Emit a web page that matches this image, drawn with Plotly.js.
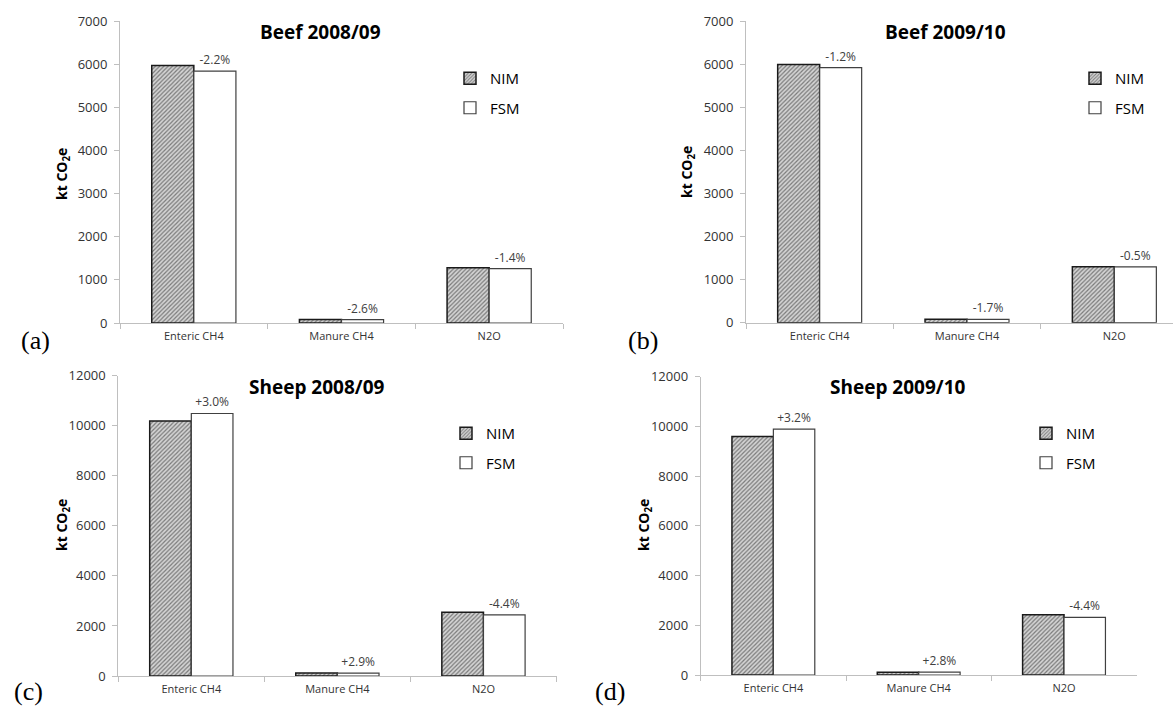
<!DOCTYPE html>
<html>
<head>
<meta charset="utf-8">
<script src="https://cdn.plot.ly/plotly-3.0.1.min.js"></script>
<style>html,body{margin:0;padding:0;background:#fff;}#chart{width:1173px;height:710px;}</style>
</head>
<body>
<div id="chart"></div>
<script>
// ---- data ----
const categories = ['Enteric CH4', 'Manure CH4', 'N2O'];
const seriesNames = ['NIM', 'FSM'];

const beef0809_nim = [5970, 80, 1280];
const beef0809_fsm = [5840, 78, 1262];
const beef0809_pct = ['-2.2%', '-2.6%', '-1.4%'];

const beef0910_nim = [5990, 80, 1300];
const beef0910_fsm = [5918, 79, 1293];
const beef0910_pct = ['-1.2%', '-1.7%', '-0.5%'];

const sheep0809_nim = [10190, 115, 2550];
const sheep0809_fsm = [10490, 118, 2440];
const sheep0809_pct = ['+3.0%', '+2.9%', '-4.4%'];

const sheep0910_nim = [9590, 110, 2420];
const sheep0910_fsm = [9895, 113, 2315];
const sheep0910_pct = ['+3.2%', '+2.8%', '-4.4%'];

const panelTitles = ['Beef 2008/09', 'Beef 2009/10', 'Sheep 2008/09', 'Sheep 2009/10'];
const panelLetters = ['(a)', '(b)', '(c)', '(d)'];
const yTitle = 'kt CO<sub>2</sub>e';

// ---- styling ----
const FONT = 'Open Sans, Noto Sans, sans-serif';
const panels = [
  {nim: beef0809_nim, fsm: beef0809_fsm, pct: beef0809_pct, xa: 'x',  ya: 'y',  lg: 'legend'},
  {nim: beef0910_nim, fsm: beef0910_fsm, pct: beef0910_pct, xa: 'x2', ya: 'y2', lg: 'legend2'},
  {nim: sheep0809_nim, fsm: sheep0809_fsm, pct: sheep0809_pct, xa: 'x3', ya: 'y3', lg: 'legend3'},
  {nim: sheep0910_nim, fsm: sheep0910_fsm, pct: sheep0910_pct, xa: 'x4', ya: 'y4', lg: 'legend4'}
];

const traces = [];
panels.forEach((p, i) => {
  traces.push({
    type: 'bar', name: seriesNames[0], x: categories, y: p.nim,
    xaxis: p.xa, yaxis: p.ya, legend: p.lg, legendgroup: 'g' + i + 'a',
    marker: {
      color: '#bdbdbd',
      line: {color: '#1a1a1a', width: 1.5},
      pattern: {shape: '/', bgcolor: '#d4d4d4', fgcolor: '#7a7a7a', size: 3, solidity: 0.4}
    },
    hoverinfo: 'skip'
  });
  traces.push({
    type: 'bar', name: seriesNames[1], x: categories, y: p.fsm,
    xaxis: p.xa, yaxis: p.ya, legend: p.lg, legendgroup: 'g' + i + 'b',
    text: p.pct, textposition: 'outside', cliponaxis: false,
    textfont: {family: FONT, size: 12, color: '#404040'},
    marker: {color: '#ffffff', line: {color: '#404040', width: 1.2}},
    hoverinfo: 'skip'
  });
});

function xAxis(domain, range) {
  const a = {
    domain: domain, type: 'category', tickson: 'boundaries',
    showline: true, linecolor: '#bfbfbf', linewidth: 1,
    ticks: 'outside', ticklen: 5, tickcolor: '#bfbfbf',
    tickfont: {family: FONT, size: 11, color: '#333333'},
    ticklabelstandoff: 3,
    showgrid: false, zeroline: false, fixedrange: true
  };
  if (range) a.range = range;
  return a;
}
function yAxis(domain, max, dtick, anchor) {
  return {
    domain: domain, range: [0, max], dtick: dtick, anchor: anchor,
    tickformat: 'd',
    showline: true, linecolor: '#bfbfbf', linewidth: 1,
    ticks: 'outside', ticklen: 5, tickcolor: '#bfbfbf',
    tickfont: {family: FONT, size: 13, color: '#333333'},
    ticklabelstandoff: 4,
    showgrid: false, zeroline: false, fixedrange: true
  };
}
function legendAt(x, y) {
  return {
    x: x, y: y, xanchor: 'left', yanchor: 'top',
    bgcolor: 'rgba(0,0,0,0)', borderwidth: 0,
    font: {family: FONT, size: 15, color: '#000000'},
    traceorder: 'grouped', tracegroupgap: 7, itemclick: false
  };
}

const W = 1173, H = 710;
const px = v => v / W;
const py = v => 1 - v / H;

const layout = {
  width: W, height: H,
  margin: {l: 0, r: 0, t: 0, b: 0},
  paper_bgcolor: '#ffffff', plot_bgcolor: '#ffffff',
  barmode: 'group', bargap: 0.43, bargroupgap: 0,
  font: {family: FONT},
  xaxis:  Object.assign(xAxis([px(120), px(563)]), {anchor: 'y'}),
  yaxis:  yAxis([py(323), py(21)], 7000, 1000, 'x'),
  xaxis2: Object.assign(xAxis([px(746), 1], [-0.5, 2.398]), {anchor: 'y2'}),
  yaxis2: yAxis([py(322.7), py(21)], 7000, 1000, 'x2'),
  xaxis3: Object.assign(xAxis([px(118.3), px(556.5)]), {anchor: 'y3'}),
  yaxis3: yAxis([py(676), py(375.7)], 12000, 2000, 'x3'),
  xaxis4: Object.assign(xAxis([px(700.7), px(1136.7)]), {anchor: 'y4'}),
  yaxis4: yAxis([py(675), py(376.7)], 12000, 2000, 'x4'),
  legend:  legendAt(px(450), py(62)),
  legend2: legendAt(px(1075), py(62)),
  legend3: legendAt(px(446), py(417)),
  legend4: legendAt(px(1026), py(417)),
  annotations: [],
  showlegend: true
};

// titles
const titlePos = [[320, 32], [945, 32], [317, 387], [898, 387]];
titlePos.forEach((t, i) => {
  layout.annotations.push({
    text: '<b>' + panelTitles[i] + '</b>', xref: 'paper', yref: 'paper',
    x: px(t[0]), y: py(t[1]), xanchor: 'center', yanchor: 'middle', showarrow: false,
    font: {family: FONT, size: 19, color: '#000000'}
  });
});
// y-axis titles
const yTitlePos = [[62, 174], [687, 172], [62, 525], [644, 525]];
yTitlePos.forEach(t => {
  layout.annotations.push({
    text: '<b>' + yTitle + '</b>', xref: 'paper', yref: 'paper',
    x: px(t[0]), y: py(t[1]), xanchor: 'center', yanchor: 'middle', showarrow: false,
    textangle: -90, font: {family: FONT, size: 14, color: '#000000'}
  });
});
// panel letters
const letterPos = [[35, 340], [643, 340], [28, 691], [610, 691]];
letterPos.forEach((t, i) => {
  layout.annotations.push({
    text: panelLetters[i], xref: 'paper', yref: 'paper',
    x: px(t[0]), y: py(t[1]), xanchor: 'center', yanchor: 'middle', showarrow: false,
    font: {family: 'Liberation Serif, Times New Roman, serif', size: 26, color: '#000000'}
  });
});

Plotly.newPlot('chart', traces, layout, {displayModeBar: false, staticPlot: true});
</script>
</body>
</html>
